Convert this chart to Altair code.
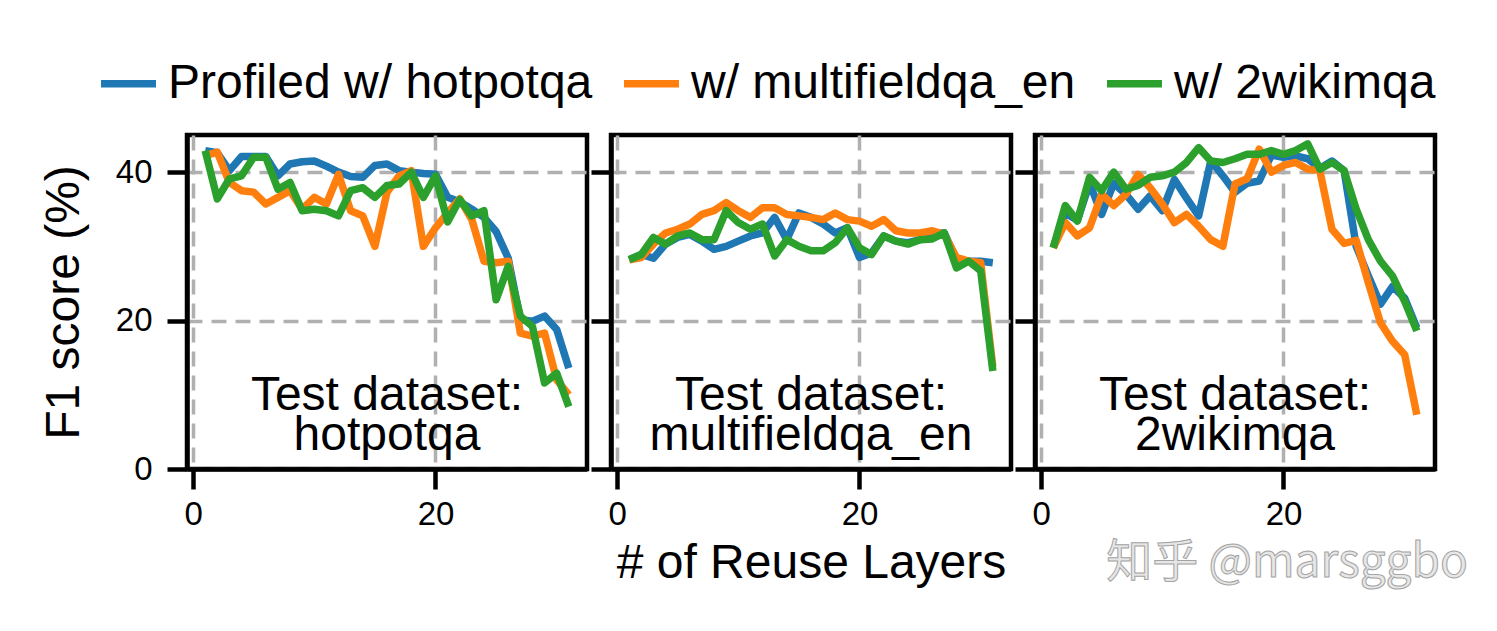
import altair as alt
import pandas as pd

# ---------------- data ----------------
layers = list(range(1, 32))
series_names = ["Profiled w/ hotpotqa", "w/ multifieldqa_en", "w/ 2wikimqa"]
series_colors = ["#1f77b4", "#ff7f0e", "#2ca02c"]
test_sets = ["hotpotqa", "multifieldqa_en", "2wikimqa"]

# Test dataset: hotpotqa
hotpot_blue = [42.9, 42.6, 40.2, 42.1, 42.1, 42.1, 39.5, 41.1, 41.4, 41.5, 40.8, 40.0, 39.4, 39.3, 40.9, 41.1,
               40.2, 40.0, 39.8, 39.7, 36.6, 36.0, 35.0, 33.9, 32.0, 28.4, 20.1, 19.9, 20.6, 18.8, 13.6]
hotpot_orange = [42.2, 42.7, 38.6, 37.5, 37.3, 35.7, 36.6, 37.5, 35.0, 36.6, 35.7, 39.7, 34.8, 34.1, 30.0, 37.3,
                 39.5, 40.2, 30.0, 32.5, 34.5, 36.4, 33.6, 28.0, 27.8, 28.0, 18.3, 17.9, 18.3, 12.0, 10.0]
hotpot_green = [42.9, 36.4, 39.1, 39.5, 42.0, 42.0, 37.7, 38.6, 34.8, 35.0, 34.8, 34.1, 37.5, 37.9, 36.6, 38.2,
                38.4, 40.0, 36.6, 39.5, 33.3, 36.3, 34.1, 34.8, 22.8, 27.3, 20.6, 19.2, 11.6, 12.9, 8.4]

# Test dataset: multifieldqa_en
mfqa_blue = [28.2, 28.9, 28.4, 30.3, 31.2, 31.6, 30.7, 29.6, 30.0, 30.7, 31.4, 31.8, 33.9, 30.9, 34.5, 33.9,
             33.0, 31.8, 32.5, 28.5, 29.1, 31.4, 30.7, 30.5, 30.9, 31.8, 31.8, 28.2, 28.0, 28.0, 27.8]
mfqa_orange = [28.2, 28.5, 30.3, 31.8, 32.3, 33.0, 34.3, 34.8, 35.9, 34.8, 33.9, 35.2, 35.2, 34.3, 34.1, 33.9,
               33.6, 34.5, 33.6, 33.4, 32.7, 33.6, 32.1, 31.8, 31.8, 32.1, 31.6, 28.5, 28.0, 27.8, 13.8]
mfqa_green = [28.2, 28.9, 31.2, 30.3, 31.4, 31.8, 30.9, 30.9, 34.8, 33.2, 32.3, 33.0, 28.7, 30.9, 30.0, 29.4,
              29.4, 30.5, 32.5, 29.8, 28.9, 31.4, 30.7, 30.3, 30.9, 31.0, 31.8, 27.1, 28.0, 26.7, 13.2]

# Test dataset: 2wikimqa
wiki_blue = [29.8, 34.5, 33.5, 38.5, 34.3, 38.5, 37.0, 35.0, 36.8, 34.8, 39.0, 36.5, 34.1, 41.5, 39.5, 37.3,
             38.5, 38.8, 42.3, 42.0, 42.2, 41.8, 40.5, 41.5, 40.2, 30.0, 26.0, 22.2, 24.6, 23.0, 19.0]
wiki_orange = [29.8, 33.2, 31.4, 32.5, 37.0, 35.5, 37.0, 39.7, 37.9, 35.7, 33.2, 34.3, 32.7, 30.9, 30.0, 38.4,
               39.1, 43.1, 40.0, 40.9, 41.3, 40.4, 40.2, 32.3, 30.4, 30.8, 25.1, 19.7, 17.2, 15.4, 7.3]
wiki_green = [29.8, 35.5, 33.4, 39.3, 37.5, 40.0, 37.7, 38.2, 39.3, 39.5, 40.0, 41.3, 43.3, 41.5, 41.3, 41.8,
              42.4, 42.4, 42.9, 42.4, 42.9, 43.8, 40.4, 41.3, 40.2, 35.0, 30.9, 28.0, 26.0, 22.6, 18.6]

panel_values = {
    "hotpotqa": [hotpot_blue, hotpot_orange, hotpot_green],
    "multifieldqa_en": [mfqa_blue, mfqa_orange, mfqa_green],
    "2wikimqa": [wiki_blue, wiki_orange, wiki_green],
}

rows = []
for test in test_sets:
    for name, vals in zip(series_names, panel_values[test]):
        for lay, v in zip(layers, vals):
            rows.append({"test": test, "series": name, "layer": lay, "f1": v})
df = pd.DataFrame(rows)

FONT = "Liberation Sans"
BIG = 48
LW = 7.5

color = alt.Color(
    "series:N",
    scale=alt.Scale(domain=series_names, range=series_colors),
    legend=alt.Legend(
        title=None,
        orient="none",
        legendX=-90,
        legendY=-83,
        direction="horizontal",
        symbolType="stroke",
        symbolStrokeWidth=LW,
        symbolSize=3025,
        labelFontSize=BIG,
        labelFont=FONT,
        labelColor="black",
        labelOffset=8,
        columnPadding=16,
        labelLimit=600,
    ),
)


def panel(i, test):
    d = df[df["test"] == test]
    xaxis_kw = dict(values=[0, 20], grid=True)
    if i == 1:
        xaxis_kw["title"] = "# of Reuse Layers"
    else:
        xaxis_kw["title"] = None
    yaxis_kw = dict(values=[0, 20, 40], grid=True, labels=(i == 0))
    if i == 0:
        yaxis_kw["title"] = "F1 score (%)"
    else:
        yaxis_kw["title"] = None
    xenc = alt.X("layer:Q", scale=alt.Scale(domain=[-0.5, 32.5], nice=False, zero=False),
                 axis=alt.Axis(**xaxis_kw))
    yenc = alt.Y("f1:Q", scale=alt.Scale(domain=[0, 45], nice=False, zero=False),
                 axis=alt.Axis(**yaxis_kw))
    layers_ = []
    for s in series_names:
        layers_.append(
            alt.Chart(d)
            .transform_filter(alt.datum.series == s)
            .mark_line(strokeWidth=LW, clip=True, strokeJoin="round", strokeCap="butt")
            .encode(x=xenc, y=yenc, color=color)
        )
    label = (
        alt.Chart(pd.DataFrame({"k": [0]}))
        .mark_text(text=["Test dataset:", test], font=FONT, fontSize=BIG, lineHeight=40,
                   baseline="middle", align="center", color="black")
        .encode(x=alt.datum(16), y=alt.datum(9.8))
    )
    layers_.append(label)
    if i == 2:
        wm = (
            alt.Chart(pd.DataFrame({"k": [0]}))
            .mark_text(text="知乎 @marsggbo", font="Noto Sans CJK SC", fontSize=46,
                       align="center", baseline="middle", fill="#e6e6e6", stroke="#a4a4a4",
                       strokeWidth=1)
            .encode(x=alt.value(252), y=alt.value(428))
        )
        layers_.append(wm)
    return alt.layer(*layers_).properties(width=400, height=334)


chart = (
    alt.hconcat(*[panel(i, t) for i, t in enumerate(test_sets)], spacing=24, bounds="flush")
    .resolve_scale(color="shared")
    .properties(padding={"top": 44, "left": 30, "right": 5, "bottom": 5})
    .configure_view(stroke="black", strokeWidth=4.5)
    .configure_axis(
        domain=True,
        domainColor="black",
        domainWidth=4.5,
        ticks=True,
        tickColor="black",
        tickWidth=4.5,
        tickSize=20,
        labelFont=FONT,
        labelFontSize=33,
        labelColor="black",
        labelPadding=9,
        titleFont=FONT,
        titleFontSize=BIG,
        titleFontWeight="normal",
        titleColor="black",
        gridColor="#b0b0b0",
        gridDash=[15, 9],
        gridWidth=3.5,
        gridOpacity=1,
    )
    .configure_axisY(labelPadding=15, titlePadding=27)
    .configure_axisX(titlePadding=8)
)

chart.save("out.html", embed_options={"renderer": "svg", "actions": False})
